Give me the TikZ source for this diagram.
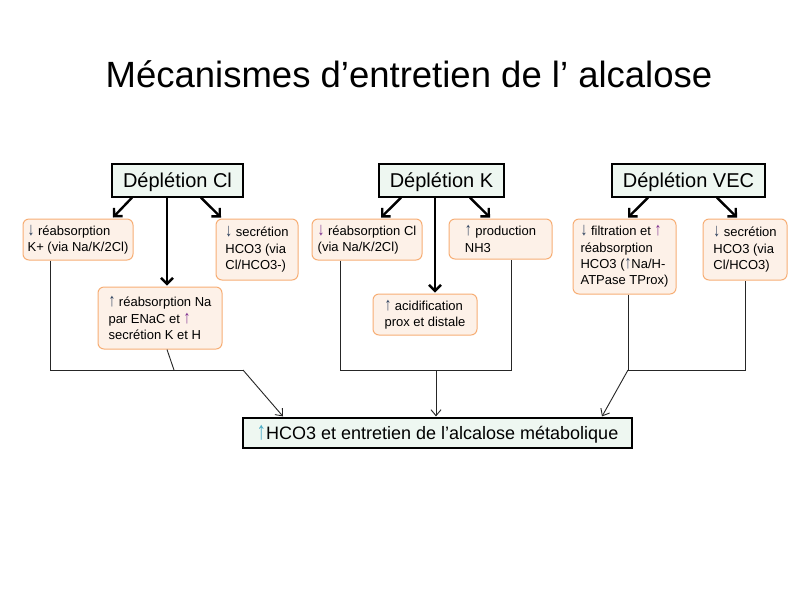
\documentclass[tikz,border=0pt]{standalone}
\usepackage{fontspec}
\setmainfont{Liberation Sans}
\usetikzlibrary{arrows.meta,calc}
\definecolor{mint}{HTML}{EEF7F1}
\definecolor{peach}{HTML}{FDF1E8}
\definecolor{orangeb}{HTML}{F7AE75}
\definecolor{arrdark}{HTML}{2B3F5C}
\definecolor{arrpurple}{HTML}{7B2D8E}
\definecolor{arrteal}{HTML}{4BACC6}
\newcommand\tallarrow[1]{\scalebox{1.05}[1.4]{#1}}
\newcommand\dnA{\textcolor{arrdark}{\tallarrow{↓}}}
\newcommand\upA{\textcolor{arrdark}{\tallarrow{↑}}}
\newcommand\dnP{\textcolor{arrpurple}{\tallarrow{↓}}}
\newcommand\upP{\textcolor{arrpurple}{\tallarrow{↑}}}
\newcommand\upT{\textcolor{arrteal}{\tallarrow{↑}}}
\begin{document}
\begin{tikzpicture}[x=1pt,y=-1pt,
  topbox/.style={draw=black, line width=1.2pt, fill=mint, inner sep=0pt, text height=14pt, text depth=1pt, font=\fontsize{20}{24}\selectfont},
  subbox/.style={draw=orangeb, line width=1pt, fill=peach, rounded corners=6pt, inner sep=0pt, align=left, font=\fontsize{13}{16.3}\selectfont},
  thickarrow/.style={line width=2.4pt, -{Straight Barb[length=6pt,width=12pt]}},
  conn/.style={line width=0.9pt, draw=black!85},
  connarrow/.style={conn, -{Straight Barb[length=6pt,width=10pt]}}
]
\path[use as bounding box, fill=white] (0,0) rectangle (810,598);

\node[anchor=base, font=\fontsize{36.5}{40}\selectfont] (title) at (409,87) {Mécanismes d’entretien de l’ alcalose};

\node[topbox, minimum width=131pt, minimum height=33pt] (cl) at (177.5,180.5) {Déplétion Cl};
\node[topbox, minimum width=125pt, minimum height=33pt] (k) at (441.5,180.5) {Déplétion K};
\node[topbox, minimum width=153pt, minimum height=33pt] (vec) at (688.5,180.5) {Déplétion VEC};

\node[subbox, minimum width=110pt, minimum height=41pt] (a1) at (78,239.5) {\dnA{} réabsorption\\K+ (via Na/K/2Cl)};
\node[subbox, minimum width=124pt, minimum height=62pt] (a2) at (160,318) {\upA{} réabsorption Na\\par ENaC et \upP\\secrétion K et H};
\node[subbox, minimum width=82pt, minimum height=61pt] (a3) at (257,249.5) {\dnA{} secrétion\\HCO3 (via\\Cl/HCO3-)};

\node[subbox, minimum width=110pt, minimum height=41pt] (b1) at (367,239.5) {\dnP{} réabsorption Cl\\(via Na/K/2Cl)};
\node[subbox, minimum width=103pt, minimum height=40pt] (b2) at (500.5,239) {\upA{} production\\NH3};
\node[subbox, minimum width=104pt, minimum height=41pt] (b3) at (425,314.5) {\upA{} acidification\\prox et distale};

\node[subbox, minimum width=103pt, minimum height=75pt] (c1) at (624.5,256.5) {\dnA{} filtration et \upP\\réabsorption\\HCO3 (\upA{}Na/H-\\ATPase TProx)};
\node[subbox, minimum width=84pt, minimum height=61pt] (c2) at (745,249.5) {\dnA{} secrétion\\HCO3 (via\\Cl/HCO3)};

\node[draw=black, line width=1.2pt, fill=mint, inner sep=0pt, minimum width=389pt, minimum height=30pt, text height=13pt, text depth=1pt, font=\fontsize{18}{22}\selectfont] (res) at (437.5,433) {\upT{}HCO3 et entretien de l’alcalose métabolique};

% thick arrows
\draw[thickarrow] ([xshift=-45.5pt]cl.south) -- ([xshift=35pt,yshift=1pt]a1.north);
\draw[thickarrow] ([xshift=-10.5pt]cl.south) -- ([xshift=7pt,yshift=1pt]a2.north);
\draw[thickarrow] ([xshift=23.5pt]cl.south) -- ([xshift=-36pt,yshift=1pt]a3.north);

\draw[thickarrow] ([xshift=-40.5pt]k.south) -- ([xshift=14pt,yshift=1pt]b1.north);
\draw[thickarrow] ([xshift=-6.5pt]k.south) -- ([xshift=10pt,yshift=1pt]b3.north);
\draw[thickarrow] ([xshift=28.5pt]k.south) -- ([xshift=-10.5pt,yshift=1pt]b2.north);

\draw[thickarrow] ([xshift=-40.5pt]vec.south) -- ([xshift=3.5pt,yshift=1pt]c1.north);
\draw[thickarrow] ([xshift=28.5pt]vec.south) -- ([xshift=-8pt,yshift=1pt]c2.north);

% thin connectors
\coordinate (ja) at (50,370);
\coordinate (jam) at (174,370);
\coordinate (jar) at (243,370);
\coordinate (jb) at (340,370);
\coordinate (jbm) at (436,370);
\coordinate (jbr) at (511,370);
\coordinate (jc) at (628,370);
\coordinate (jcr) at (745,370);

\draw[conn] ([xshift=-28pt]a1.south) -- (ja) -- (jar);
\draw[conn] ([xshift=7pt]a2.south) -- (jam);
\draw[connarrow] (jar) -- ([xshift=-154.5pt,yshift=1pt]res.north);

\draw[conn] ([xshift=-27pt]b1.south) -- (jb) -- (jbr) -- ([xshift=10.5pt]b2.south);
\draw[connarrow] (jbm) -- ([xshift=-1.5pt,yshift=1pt]res.north);

\draw[conn] ([xshift=3.5pt]c1.south) -- (jc) -- (jcr) -- (c2.south);
\draw[connarrow] (jc) -- ([xshift=164.5pt,yshift=1pt]res.north);
\end{tikzpicture}
\end{document}
